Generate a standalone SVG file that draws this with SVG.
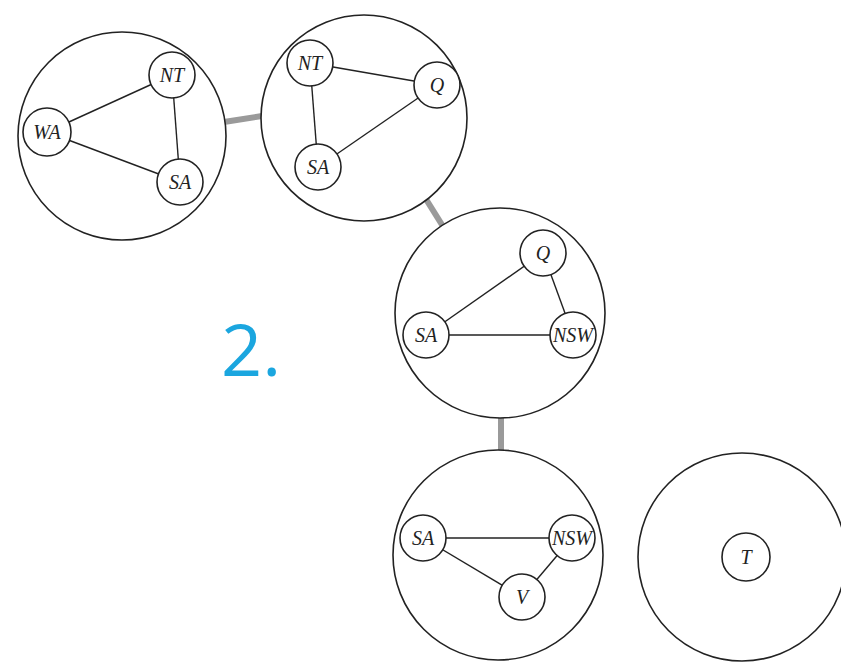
<svg xmlns="http://www.w3.org/2000/svg" width="841" height="664" viewBox="0 0 841 664">
  <style>
    .cluster { fill: #fff; stroke: #222; stroke-width: 1.6; }
    .var { fill: #fff; stroke: #222; stroke-width: 1.6; }
    .edge { stroke: #222; stroke-width: 1.4; fill: none; }
    .link { stroke: #9a9a9a; stroke-width: 6; fill: none; }
    .lbl { font-family: "Liberation Serif", "Times New Roman", serif; font-style: italic; font-size: 20px; fill: #222; text-anchor: middle; dominant-baseline: central; }
    .step { font-family: "Open Sans", "Noto Sans", sans-serif; font-size: 72px; fill: #1ba6df; }
  </style>
  <rect width="841" height="664" fill="#fff"/>

  <!-- links between clusters of the tree decomposition -->
  <g id="connectors">
    <line class="link" x1="224" y1="122" x2="262" y2="116"/>
    <line class="link" x1="424" y1="196" x2="444" y2="228"/>
    <line class="link" x1="501" y1="416" x2="501" y2="452"/>
  </g>

  <g id="cluster-wa-nt-sa">
    <circle class="cluster" cx="122" cy="136" r="104"/>
    <line class="edge" x1="47" y1="132" x2="172" y2="75"/>
    <line class="edge" x1="47" y1="132" x2="180" y2="182"/>
    <line class="edge" x1="172" y1="75" x2="180" y2="182"/>
    <circle class="var" cx="172" cy="75" r="23"/>
    <text class="lbl" x="172" y="75">NT</text>
    <circle class="var" cx="47" cy="132" r="24"/>
    <text class="lbl" x="47" y="132">WA</text>
    <circle class="var" cx="180" cy="182" r="23"/>
    <text class="lbl" x="180" y="182">SA</text>
  </g>

  <g id="cluster-nt-q-sa">
    <circle class="cluster" cx="364" cy="118" r="103"/>
    <line class="edge" x1="310" y1="63" x2="437" y2="85"/>
    <line class="edge" x1="310" y1="63" x2="318" y2="167"/>
    <line class="edge" x1="318" y1="167" x2="437" y2="85"/>
    <circle class="var" cx="310" cy="63" r="23"/>
    <text class="lbl" x="310" y="63">NT</text>
    <circle class="var" cx="437" cy="85" r="23"/>
    <text class="lbl" x="437" y="85">Q</text>
    <circle class="var" cx="318" cy="167" r="23"/>
    <text class="lbl" x="318" y="167">SA</text>
  </g>

  <g id="cluster-q-sa-nsw">
    <circle class="cluster" cx="500" cy="313" r="105"/>
    <line class="edge" x1="426" y1="335" x2="543" y2="253"/>
    <line class="edge" x1="543" y1="253" x2="573" y2="335"/>
    <line class="edge" x1="426" y1="335" x2="573" y2="335"/>
    <circle class="var" cx="543" cy="253" r="23"/>
    <text class="lbl" x="543" y="253">Q</text>
    <circle class="var" cx="426" cy="335" r="23"/>
    <text class="lbl" x="426" y="335">SA</text>
    <circle class="var" cx="573" cy="335" r="23"/>
    <text class="lbl" x="573" y="335">NSW</text>
  </g>

  <g id="cluster-sa-nsw-v">
    <circle class="cluster" cx="498" cy="555" r="105"/>
    <line class="edge" x1="423" y1="538" x2="572" y2="538"/>
    <line class="edge" x1="423" y1="538" x2="522" y2="597"/>
    <line class="edge" x1="572" y1="538" x2="522" y2="597"/>
    <circle class="var" cx="423" cy="538" r="23"/>
    <text class="lbl" x="423" y="538">SA</text>
    <circle class="var" cx="572" cy="538" r="23"/>
    <text class="lbl" x="572" y="538">NSW</text>
    <circle class="var" cx="522" cy="597" r="23"/>
    <text class="lbl" x="522" y="597">V</text>
  </g>

  <g id="cluster-t">
    <circle class="cluster" cx="742" cy="557" r="104"/>
    <circle class="var" cx="746" cy="557" r="24"/>
    <text class="lbl" x="746" y="557">T</text>
  </g>

  <text class="step" x="221" y="376">2.</text>
</svg>
